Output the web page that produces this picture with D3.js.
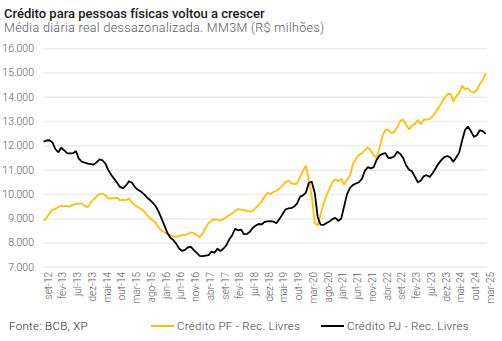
<!DOCTYPE html>
<html>
<head>
<meta charset="utf-8">
<script src="https://cdn.jsdelivr.net/npm/d3@7"></script>
<style>
  body { margin: 0; background: #fff; }
  text { font-family: Roboto, "Noto Sans", sans-serif; }
</style>
</head>
<body>
<script>
// monthly, set-12 .. mar-25 (151 points)
const pfValues = [
  8890, 9020, 9190, 9340, 9380, 9460, 9510, 9500, 9500, 9480,
  9560, 9580, 9600, 9600, 9510, 9450, 9640, 9780, 9890, 9990,
  10010, 9940, 9820, 9810, 9830, 9840, 9730, 9750, 9740, 9810,
  9650, 9540, 9450, 9400, 9290, 9140, 9020, 8910, 8830, 8620,
  8500, 8420, 8350, 8300, 8250, 8230, 8270, 8300, 8310, 8350,
  8410, 8380, 8300, 8220, 8380, 8600, 8800, 8900, 8950, 8940,
  8900, 8960, 9050, 9120, 9190, 9300, 9380, 9350, 9330, 9300,
  9270, 9300, 9420, 9550, 9680, 9880, 10050, 9990, 10080, 10130,
  10220, 10320, 10480, 10540, 10450, 10400, 10420, 10700, 10950, 11150,
  10600, 9900, 8800, 8700, 9150, 9600, 9950, 10200, 10480, 10600,
  10520, 10620, 10380, 10600, 10760, 11250, 11450, 11600, 11680, 11800,
  11920, 11780, 11600, 11470, 11900, 12400, 12650, 12640, 12500, 12560,
  12750, 13000, 13070, 12850, 12660, 12820, 12890, 13040, 12880, 13070,
  13060, 13080, 13200, 13360, 13560, 13740, 13950, 14100, 14140, 13800,
  14030, 14150, 14450, 14320, 14350, 14220, 14170, 14280, 14520, 14700,
  14970
];
const pjValues = [
  12150, 12200, 12210, 12130, 11850, 11720, 11900, 11800, 11680, 11670,
  11680, 11760, 11450, 11330, 11290, 11250, 11230, 11210, 11300, 11420,
  11380, 11250, 10980, 10780, 10620, 10450, 10280, 10240, 10350, 10520,
  10460, 10280, 10170, 10100, 10000, 9870, 9760, 9640, 9500, 9280,
  9000, 8700, 8400, 8200, 8100, 7950, 7750, 7650, 7690, 7800,
  7820, 7680, 7570, 7450, 7440, 7460, 7480, 7620, 7580, 7740,
  7650, 7740, 7880, 8120, 8300, 8560, 8500, 8530, 8340, 8350,
  8440, 8600, 8700, 8760, 8740, 8850, 8870, 8880, 8860, 8790,
  8960, 9150, 9350, 9400, 9410, 9480, 9600, 9880, 9940, 10050,
  10460, 10500, 10050, 9050, 8730, 8720, 8800, 8860, 8960, 9010,
  8890, 8980, 9500, 10000, 10250, 10370, 10430, 10480, 10620, 10950,
  11100, 11050, 11100, 11400, 11580, 11650, 11680, 11480, 11490, 11550,
  11740, 11650, 11480, 11180, 11000, 10930, 10700, 10480, 10550, 10730,
  10770, 10700, 10850, 11050, 11250, 11400, 11520, 11560, 11500, 11330,
  11500, 11700, 12200, 12640, 12770, 12580, 12350, 12420, 12620, 12590,
  12470
];
// one label every 5 months
const tickLabels = [
  "set-12", "fev-13", "jul-13", "dez-13", "mai-14", "out-14", "mar-15", "ago-15",
  "jan-16", "jun-16", "nov-16", "abr-17", "set-17", "fev-18", "jul-18", "dez-18",
  "mai-19", "out-19", "mar-20", "ago-20", "jan-21", "jun-21", "nov-21", "abr-22",
  "set-22", "fev-23", "jul-23", "dez-23", "mai-24", "out-24", "mar-25"
];
const yTicks = [7000, 8000, 9000, 10000, 11000, 12000, 13000, 14000, 15000, 16000];
const seriesNames = ["Crédito PF - Rec. Livres", "Crédito PJ - Rec. Livres"];

const width = 502, height = 341;
const svg = d3.select("body").append("svg")
  .attr("width", width).attr("height", height);

const x = d3.scaleLinear().domain([0, pfValues.length - 1]).range([43.5, 485.7]);
const y = d3.scaleLinear().domain([7000, 16000]).range([266.7, 48.3]);

// title
svg.append("text").attr("x", 4).attr("y", 18)
  .attr("font-size", 13).attr("font-weight", 500).attr("fill", "#1a1a1a")
  .text("Crédito para pessoas físicas voltou a crescer");
svg.append("text").attr("x", 4).attr("y", 32)
  .attr("font-size", 12.5).attr("font-weight", 300).attr("fill", "#595959")
  .attr("letter-spacing", 0.35)
  .text("Média diária real dessazonalizada. MM3M (R$ milhões)");

// grid + y labels
const fmt = d3.formatLocale({ decimal: ",", thousands: ".", grouping: [3], currency: ["R$", ""] }).format(",.0f");
const yAxis = svg.append("g").attr("transform", "translate(43,0)")
  .call(d3.axisLeft(y).tickValues(yTicks).tickSize(-444).tickFormat(fmt).tickPadding(9));
yAxis.select(".domain").remove();
yAxis.selectAll(".tick line").attr("stroke", "#ececec").attr("stroke-width", 1.5);
yAxis.selectAll(".tick text").attr("font-size", 10.5).attr("fill", "#595959")
  .style("font-family", "Roboto, sans-serif").attr("font-weight", 300);

// x labels, rotated
const xAxis = svg.append("g");
xAxis.selectAll("text").data(tickLabels).enter().append("text")
  .attr("transform", (d, i) => `translate(${x(i * 5) + 5.5},272) rotate(-90)`)
  .attr("text-anchor", "end").attr("dominant-baseline", "middle")
  .attr("font-size", 10).attr("font-weight", 300).attr("fill", "#595959")
  .text(d => d);

// lines
const line = d3.line().x((d, i) => x(i)).y(d => y(d)).curve(d3.curveLinear);
svg.append("path").datum(pfValues).attr("d", line)
  .attr("fill", "none").attr("stroke", "#FFC000").attr("stroke-width", 1.8).attr("stroke-linejoin", "round");
svg.append("path").datum(pjValues).attr("d", line)
  .attr("fill", "none").attr("stroke", "#000").attr("stroke-width", 1.8).attr("stroke-linejoin", "round");

// footer
svg.append("text").attr("x", 9).attr("y", 330)
  .attr("font-size", 11.5).attr("font-weight", 300).attr("letter-spacing", 0.3)
  .attr("fill", "#262626").text("Fonte: BCB, XP");

const legend = svg.append("g");
const legendX = [151, 321];
const legendColors = ["#FFC000", "#000"];
seriesNames.forEach((name, k) => {
  legend.append("line").attr("x1", legendX[k]).attr("x2", legendX[k] + 23)
    .attr("y1", 326).attr("y2", 326)
    .attr("stroke", legendColors[k]).attr("stroke-width", 2);
  legend.append("text").attr("x", legendX[k] + 26).attr("y", 330)
    .attr("font-size", 11.5).attr("font-weight", 300).attr("letter-spacing", 0.3)
    .attr("fill", "#404040").text(name);
});
</script>
</body>
</html>
